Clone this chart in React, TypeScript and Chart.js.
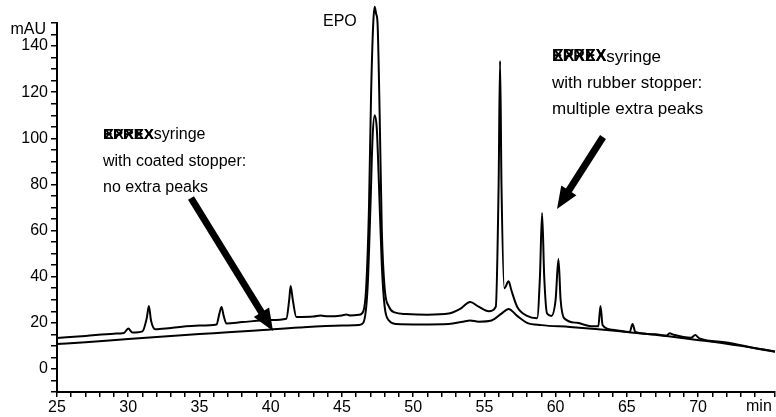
import React, { useEffect, useRef } from "react";
import { Chart, registerables } from "chart.js";

Chart.register(...registerables);

// Retention time (min) / absorbance (mAU)
const timesRubber = [25.0, 27.0, 29.0, 29.7, 30.0, 30.3, 31.0, 31.3, 31.45, 31.6, 31.9, 33.0, 35.0, 36.2, 36.4, 36.55, 36.7, 36.9, 38.0, 40.0, 41.1, 41.3, 41.4, 41.55, 41.8, 43.0, 43.5, 44.0, 45.0, 45.3, 45.6, 46.2, 46.5, 46.7, 46.9, 47.05, 47.2, 47.3, 47.4, 47.5, 47.65, 47.8, 48.0, 48.3, 48.7, 49.5, 51.0, 52.5, 53.3, 54.0, 54.6, 55.3, 55.8, 56.0, 56.1, 56.2, 56.4, 56.7, 56.9, 57.3, 58.0, 58.7, 58.9, 59.05, 59.2, 59.4, 59.7, 60.0, 60.2, 60.35, 60.6, 61.5, 62.5, 63.0, 63.15, 63.3, 64.0, 65.2, 65.4, 65.6, 67.0, 67.8, 68.0, 68.3, 69.5, 69.8, 70.1, 72.0, 74.0, 75.4];
const valuesRubber = [13.4, 14.3, 15.3, 15.6, 17.5, 15.8, 16.3, 22, 27.3, 21, 17.2, 17.8, 18.8, 19.3, 24, 26.9, 23, 19.7, 20.3, 21.2, 21.8, 30, 36, 30, 22.5, 22.7, 23.2, 22.8, 23.2, 23.6, 23.2, 23.5, 25, 35, 70, 120, 150, 157, 154, 150, 110, 60, 35, 27, 24.5, 23.8, 23.5, 24, 26, 29, 27, 25, 27, 80, 133.5, 80, 35, 38, 34, 27, 23, 22, 40, 67.6, 40, 24, 23, 30, 47.7, 30, 22, 20, 18.5, 18.5, 27.3, 19, 17, 16, 19.5, 16, 15, 14.5, 15.5, 14.8, 13.5, 14.7, 13.2, 11.5, 9, 7.5];

const timesCoated = [25.0, 27.0, 30.0, 33.0, 36.0, 39.0, 42.0, 45.0, 46.2, 46.5, 46.8, 47.0, 47.15, 47.3, 47.45, 47.6, 47.8, 48.0, 48.3, 48.8, 50.5, 52.5, 53.5, 54.0, 54.6, 55.5, 56.2, 56.7, 57.3, 58.0, 59.0, 61.0, 63.0, 65.0, 67.0, 69.0, 71.0, 73.0, 75.4];
const valuesCoated = [10.8, 11.6, 13.0, 14.3, 15.5, 16.7, 18.0, 18.8, 19.0, 20, 35, 70, 100, 110, 104, 80, 45, 27, 21, 19.5, 19.3, 19.5, 20.5, 21, 20.5, 21, 24, 26, 23, 20, 19, 18.2, 17.2, 16.0, 14.8, 13.3, 11.8, 10.0, 7.6];

const yTickLabels = [0, 20, 40, 60, 80, 100, 120, 140];
const xTickLabels = [25, 30, 35, 40, 45, 50, 55, 60, 65, 70];

const FONT = "'Liberation Sans', Arial, Helvetica, sans-serif";

function drawArrow(ctx: CanvasRenderingContext2D, x0: number, y0: number, x1: number, y1: number) {
  const dx = x1 - x0, dy = y1 - y0;
  const len = Math.hypot(dx, dy);
  const ux = dx / len, uy = dy / len;
  const headLen = 22, headW = 9;
  const bx = x1 - ux * headLen, by = y1 - uy * headLen;
  ctx.save();
  ctx.strokeStyle = "#000";
  ctx.fillStyle = "#000";
  ctx.lineWidth = 7;
  ctx.lineCap = "butt";
  ctx.beginPath();
  ctx.moveTo(x0, y0);
  ctx.lineTo(bx + ux * 2, by + uy * 2);
  ctx.stroke();
  ctx.beginPath();
  ctx.moveTo(x1, y1);
  ctx.lineTo(bx - uy * headW, by + ux * headW);
  ctx.lineTo(bx + uy * headW, by - ux * headW);
  ctx.closePath();
  ctx.fill();
  ctx.restore();
}

function drawRedacted(ctx: CanvasRenderingContext2D, x: number, y: number, size: number) {
  ctx.save();
  ctx.font = `bold ${size}px ${FONT}`;
  ctx.fillText("EPREX", x, y);
  ctx.fillText("XXXXX", x + 1, y);
  const w = ctx.measureText("EPREX").width;
  ctx.restore();
  return w;
}

const annotations = {
  id: "annotations",
  afterDraw(chart: any) {
    const ctx = chart.ctx as CanvasRenderingContext2D;
    ctx.save();
    ctx.fillStyle = "#000";
    ctx.textBaseline = "middle";
    ctx.textAlign = "left";
    ctx.font = `16px ${FONT}`;
    ctx.fillText("EPO", 323, 22);

    // left note
    let w = drawRedacted(ctx, 103, 135, 15);
    ctx.font = `16px ${FONT}`;
    ctx.fillText("syringe", 103 + w, 135);
    ctx.fillText("with coated stopper:", 103, 162);
    ctx.fillText("no extra peaks", 103, 188);

    // right note
    w = drawRedacted(ctx, 552, 57, 16);
    ctx.font = `17px ${FONT}`;
    ctx.fillText("syringe", 552 + w, 57);
    ctx.fillText("with rubber stopper:", 552, 83);
    ctx.fillText("multiple extra peaks", 552, 109);

    ctx.font = `16px ${FONT}`;
    ctx.fillText("min", 746, 407);
    ctx.textAlign = "right";
    ctx.fillText("mAU", 46, 30);
    ctx.restore();

    drawArrow(ctx, 191, 198, 273, 331);
    drawArrow(ctx, 603, 137, 557, 209);
  },
};

export default function App() {
  const ref = useRef<HTMLCanvasElement>(null);
  useEffect(() => {
    const canvas = ref.current;
    if (!canvas) return;
    const chart = new Chart(canvas, {
      type: "line",
      data: {
        datasets: [
          {
            label: "rubber stopper",
            data: timesRubber.map((t, i) => ({ x: t, y: valuesRubber[i] })),
            borderColor: "#000",
            borderWidth: 2,
            pointRadius: 0,
            cubicInterpolationMode: "monotone",
            clip: false as any,
          },
          {
            label: "coated stopper",
            data: timesCoated.map((t, i) => ({ x: t, y: valuesCoated[i] })),
            borderColor: "#000",
            borderWidth: 2,
            pointRadius: 0,
            cubicInterpolationMode: "monotone",
            clip: false as any,
          },
        ],
      },
      options: {
        animation: false,
        responsive: false,
        devicePixelRatio: 1,
        layout: { padding: { top: 23, right: 0, left: 0, bottom: 0 } },
        plugins: { legend: { display: false }, tooltip: { enabled: false } },
        scales: {
          x: {
            type: "linear",
            min: 25,
            max: 75.4,
            afterFit(scale: any) {
              scale.height = 25;
            },
            border: { display: true, color: "#000", width: 2 },
            grid: { display: true, drawOnChartArea: false, drawTicks: true, tickLength: 5, color: "#000", lineWidth: 1.5 },
            ticks: {
              stepSize: 1,
              autoSkip: false,
              maxRotation: 0,
              padding: 1,
              color: "#000",
              font: { family: FONT, size: 16 },
              callback: (v: any) => (xTickLabels.includes(Number(v)) ? String(v) : ""),
            },
          },
          y: {
            min: -10,
            max: 150,
            afterFit(scale: any) {
              scale.width = 57;
            },
            border: { display: true, color: "#000", width: 2 },
            grid: { display: true, drawOnChartArea: false, drawTicks: true, tickLength: 6, color: "#000", lineWidth: 1.5 },
            ticks: {
              stepSize: 5,
              autoSkip: false,
              padding: 3,
              color: "#000",
              font: { family: FONT, size: 16 },
              callback: (v: any) => {
                const n = Number(v);
                return yTickLabels.includes(n) ? String(n) : "";
              },
            },
          },
        },
      },
      plugins: [annotations],
    });
    return () => chart.destroy();
  }, []);
  return (
    <div style={{ position: "absolute", left: 0, top: 0, width: 776, height: 417, background: "#fff" }}>
      <canvas ref={ref} width={776} height={417} />
    </div>
  );
}
